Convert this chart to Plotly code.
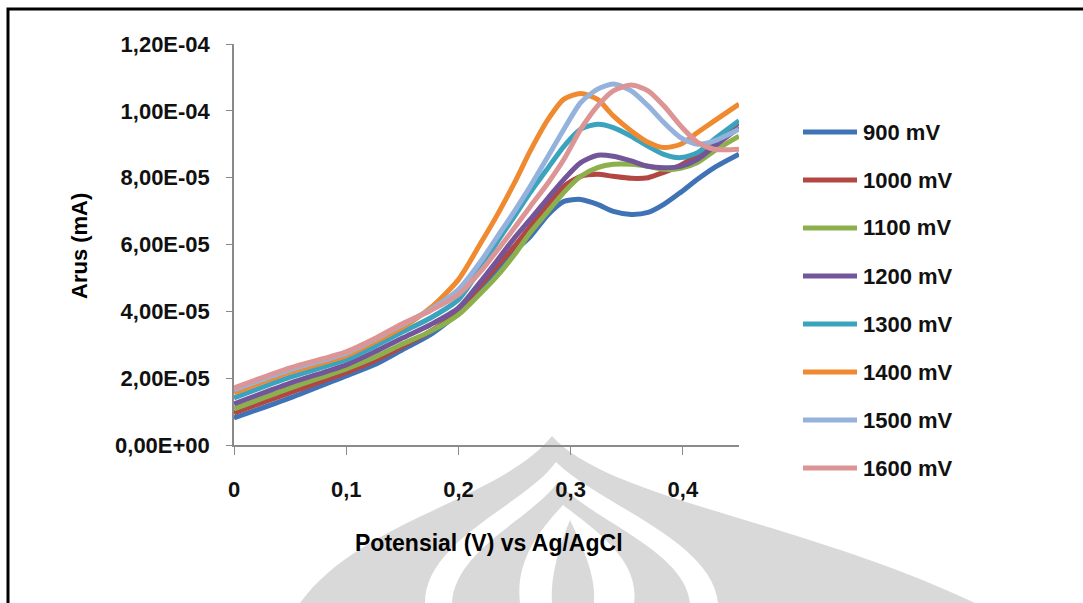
import plotly.graph_objects as go

# Potential (V vs Ag/AgCl)
potential = [0, 0.05, 0.1, 0.125, 0.15, 0.175, 0.2, 0.22, 0.234, 0.25, 0.264,
             0.28, 0.294, 0.309, 0.324, 0.338, 0.354, 0.369, 0.383, 0.398,
             0.413, 0.428, 0.45]

# Current (units of 1e-5 mA) for each deposition potential
i_900 = [0.81, 1.41, 2.07, 2.4, 2.85, 3.3, 3.95, 4.7, 5.25, 5.8, 6.24,
         6.9, 7.29, 7.35, 7.2, 6.99, 6.9, 6.96, 7.2, 7.56, 7.95, 8.3, 8.7]
i_1000 = [0.96, 1.57, 2.17, 2.52, 2.95, 3.4, 4.0, 4.8, 5.34, 5.95, 6.54,
          7.2, 7.74, 8.04, 8.1, 8.04, 7.98, 8.0, 8.16, 8.37, 8.7, 9.1, 9.65]
i_1100 = [1.08, 1.7, 2.28, 2.62, 3.02, 3.4, 3.9, 4.55, 5.04, 5.7, 6.36,
          7.0, 7.56, 8.04, 8.3, 8.4, 8.4, 8.34, 8.25, 8.28, 8.45, 8.8, 9.24]
i_1200 = [1.23, 1.85, 2.4, 2.78, 3.2, 3.6, 4.1, 4.9, 5.5, 6.2, 6.75,
          7.4, 7.95, 8.45, 8.67, 8.64, 8.5, 8.34, 8.3, 8.34, 8.55, 8.94, 9.5]
i_1300 = [1.41, 2.03, 2.55, 2.95, 3.38, 3.8, 4.35, 5.3, 6.05, 6.85, 7.56,
          8.3, 8.94, 9.45, 9.6, 9.5, 9.24, 8.94, 8.7, 8.6, 8.75, 9.15, 9.7]
i_1400 = [1.56, 2.18, 2.67, 3.08, 3.52, 4.1, 4.95, 6.05, 6.85, 7.85, 8.8,
          9.75, 10.35, 10.52, 10.34, 9.85, 9.4, 9.06, 8.9, 9.0, 9.35, 9.7,
          10.2]
i_1500 = [1.65, 2.25, 2.75, 3.15, 3.6, 4.05, 4.65, 5.5, 6.2, 7.0, 7.74,
          8.65, 9.45, 10.25, 10.65, 10.8, 10.6, 10.15, 9.65, 9.2, 9.0, 9.1,
          9.45]
i_1600 = [1.71, 2.31, 2.79, 3.18, 3.63, 4.02, 4.5, 5.2, 5.8, 6.5, 7.14,
          7.85, 8.55, 9.45, 10.15, 10.6, 10.77, 10.6, 10.15, 9.55, 9.06, 8.85,
          8.85]

series_names = ["900 mV", "1000 mV", "1100 mV", "1200 mV",
                "1300 mV", "1400 mV", "1500 mV", "1600 mV"]
series_values = [i_900, i_1000, i_1100, i_1200, i_1300, i_1400, i_1500, i_1600]
series_colors = ["#3F73B5", "#B24643", "#8CB14C", "#73569A",
                 "#3AA3BE", "#EF8A30", "#94B2DB", "#DC9594"]

y_tickvals = [0, 2e-5, 4e-5, 6e-5, 8e-5, 1e-4, 1.2e-4]
y_ticktext = ["0,00E+00", "2,00E-05", "4,00E-05", "6,00E-05",
              "8,00E-05", "1,00E-04", "1,20E-04"]
x_tickvals = [0, 0.1, 0.2, 0.3, 0.4]
x_ticktext = ["0", "0,1", "0,2", "0,3", "0,4"]

W, H = 1083, 603
PL, PR, PT, PB = 234, 739, 44, 445   # plot area in pixels
FONT = "Liberation Sans"


def px(x):
    return (x - PL) / (PR - PL)


def py(y):
    return (PB - y) / (PB - PT)


def path(points):
    """Build an SVG path in paper units from pixel-space cubic segments."""
    out = []
    for cmd, pts in points:
        coords = " ".join(f"{px(a):.4f},{py(b):.4f}" for a, b in pts)
        out.append(f"{cmd} {coords}")
    return " ".join(out) + " Z"


fig = go.Figure()

for name, vals, col in zip(series_names, series_values, series_colors):
    fig.add_trace(go.Scatter(
        x=potential, y=[v * 1e-5 for v in vals], mode="lines", name=name,
        line=dict(color=col, width=5, shape="spline", smoothing=0.7),
        showlegend=False, hoverinfo="skip",
    ))

shapes = []
gray = "#D9D9D9"
# faint background emblem
emblem = [
    (gray, [("M", [(300, 603)]), ("C", [(360, 520), (500, 500), (552, 436)]),
            ("C", [(610, 500), (800, 520), (975, 603)])]),
    ("white", [("M", [(425, 603)]), ("C", [(425, 540), (525, 505), (556, 462)]),
               ("C", [(600, 505), (712, 540), (718, 603)])]),
    (gray, [("M", [(452, 603)]), ("C", [(455, 550), (530, 520), (558, 482)]),
            ("C", [(590, 520), (685, 550), (690, 603)])]),
    ("white", [("M", [(520, 603)]), ("C", [(515, 560), (540, 530), (563, 505)]),
               ("C", [(595, 530), (640, 560), (634, 603)])]),
    (gray, [("M", [(552, 603)]), ("C", [(550, 575), (560, 545), (570, 520)]),
            ("C", [(582, 545), (596, 575), (594, 603)])]),
]
for col, pts in emblem:
    shapes.append(dict(type="path", xref="paper", yref="paper", path=path(pts),
                       fillcolor=col, line=dict(width=0), layer="below"))

# outer frame
shapes.append(dict(type="rect", xref="paper", yref="paper",
                   x0=px(8), x1=px(1095), y0=py(9), y1=py(640),
                   line=dict(color="black", width=3)))

annotations = []
# legend drawn as line samples with labels
for k, (name, col) in enumerate(zip(series_names, series_colors)):
    yy = 132 + 48 * k
    shapes.append(dict(type="line", xref="paper", yref="paper",
                       x0=px(803), x1=px(857), y0=py(yy), y1=py(yy),
                       line=dict(color=col, width=5)))
    annotations.append(dict(xref="paper", yref="paper", x=px(861), y=py(yy),
                            text=name, showarrow=False, xanchor="left",
                            yanchor="middle",
                            font=dict(family=FONT, size=22, color="#111111",
                                      weight="bold")))

annotations.append(dict(xref="paper", yref="paper", x=px(489), y=py(543),
                        text="Potensial (V) vs Ag/AgCl", showarrow=False,
                        xanchor="center", yanchor="middle",
                        font=dict(family=FONT, size=23, color="black",
                                  weight="bold")))
annotations.append(dict(xref="paper", yref="paper", x=px(80), y=py(246),
                        text="Arus (mA)", showarrow=False, textangle=-90,
                        xanchor="center", yanchor="middle",
                        font=dict(family=FONT, size=22, color="black",
                                  weight="bold")))

axis_font = dict(family=FONT, size=22, color="#111111", weight="bold")
fig.update_layout(
    width=W, height=H,
    margin=dict(l=PL, r=W - PR, t=PT, b=H - PB),
    paper_bgcolor="white", plot_bgcolor="rgba(0,0,0,0)",
    shapes=shapes, annotations=annotations,
    xaxis=dict(range=[0, 0.45], tickvals=x_tickvals, ticktext=x_ticktext,
               showgrid=False, zeroline=False, showline=True,
               linecolor="#8A8A8A", linewidth=1.5, ticks="outside",
               ticklen=8, tickcolor="#8A8A8A", tickfont=axis_font,
               ticklabelstandoff=16),
    yaxis=dict(range=[0, 1.2e-4], tickvals=y_tickvals, ticktext=y_ticktext,
               showgrid=False, zeroline=False, showline=True,
               linecolor="#8A8A8A", linewidth=1.5, ticks="outside",
               ticklen=6, tickcolor="#8A8A8A", tickfont=axis_font,
               ticklabelstandoff=12),
)

fig.write_html("out.html")
